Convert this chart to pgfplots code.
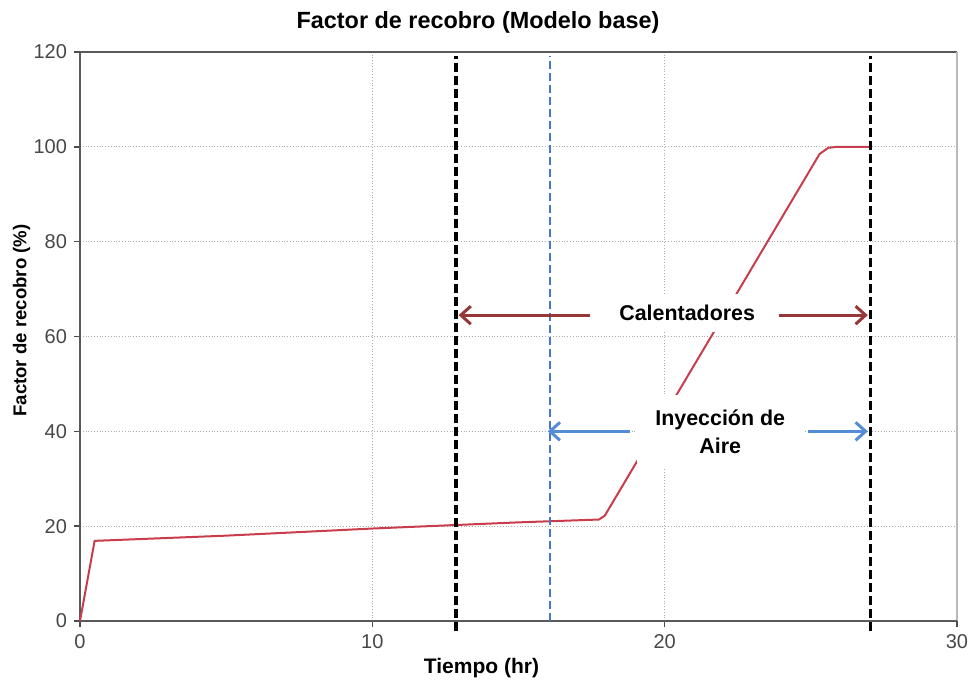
\documentclass[border=0pt]{standalone}
\usepackage{fontspec}
\setmainfont{Liberation Sans}
\usepackage{pgfplots}
\pgfplotsset{compat=1.18}
\usetikzlibrary{arrows.meta}
\definecolor{curvered}{RGB}{200,60,75}
\definecolor{darkred}{RGB}{150,55,55}
\definecolor{arrowblue}{RGB}{85,140,215}
\definecolor{lineblue}{RGB}{70,120,210}
\begin{document}
\begin{tikzpicture}
\begin{axis}[
 scale only axis, width=438.5pt, height=284.5pt,
 xmin=0, xmax=30, ymin=0, ymax=120,
 xtick={0,10,20,30}, ytick={0,20,40,60,80,100,120},
 grid=major, grid style={densely dotted, gray!65, line width=0.6pt},
 axis line style={draw=none},
 tick align=outside, xtick pos=bottom, ytick pos=left,
 major tick length=3pt, tick style={black!70, line width=0.8pt},
 /pgf/number format/assume math mode=true,
 ticklabel style={font=\fontsize{10}{12}\selectfont, text=black!72},
 clip=false,
]
\draw[black!65, line width=0.8pt] (rel axis cs:0,1) -- (rel axis cs:1,1);
\draw[gray!55, line width=0.6pt] (rel axis cs:1,0) -- (rel axis cs:1,1);
\draw[black!65, line width=1pt] (rel axis cs:0,1) -- (rel axis cs:0,0) -- (rel axis cs:1,0);
\addplot[curvered, line width=1pt, no marks] coordinates {
 (0,0) (0.5,16.9) (5,18.0) (10,19.5) (15,20.8) (17.75,21.4) (17.95,22.2) (25.3,98.5) (25.6,99.8) (25.9,100) (27,100)
};
\addplot[lineblue, line width=1pt, dash pattern=on 4pt off 2pt, no marks] coordinates {(16.08,0) (16.08,119.2)};
\addplot[black, line width=1.6pt, dash pattern=on 4.5pt off 2pt, no marks] coordinates {(12.86,-2.2) (12.86,119.2)};
\addplot[black, line width=1.6pt, dash pattern=on 4.5pt off 2pt, no marks] coordinates {(27.05,-2.2) (27.05,119.2)};
\node[fill=white, inner xsep=4pt, inner ysep=5.5pt, font=\bfseries\fontsize{10.7}{13}\selectfont] at (axis cs:20.77,65) {Calentadores};
\node[fill=white, inner xsep=9pt, inner ysep=7pt, align=center, font=\bfseries\fontsize{10.7}{14}\selectfont] at (axis cs:21.9,40) {Inyección de\\Aire};
\draw[darkred, line width=1.5pt, -{Straight Barb[length=5pt,width=9pt]}] (axis cs:17.45,64.5) -- (axis cs:12.95,64.5);
\draw[darkred, line width=1.5pt, -{Straight Barb[length=5pt,width=9pt]}] (axis cs:23.9,64.5) -- (axis cs:26.95,64.5);
\draw[arrowblue, line width=1.5pt, -{Straight Barb[length=5pt,width=9pt]}] (axis cs:18.8,40) -- (axis cs:16.0,40);
\draw[arrowblue, line width=1.5pt, -{Straight Barb[length=5pt,width=9pt]}] (axis cs:24.9,40) -- (axis cs:26.95,40);
\end{axis}
\node[font=\bfseries\fontsize{11.7}{14}\selectfont] at (199pt,299.5pt) {Factor de recobro (Modelo base)};
\node[font=\bfseries\fontsize{10.5}{12}\selectfont] at (200.75pt,-23.5pt) {Tiempo (hr)};
\node[font=\bfseries\fontsize{9.3}{12}\selectfont, rotate=90] at (-29.25pt,150.25pt) {Factor de recobro (\%)};
\pgfresetboundingbox
\path[use as bounding box] (-40pt,-32pt) rectangle (445.5pt,310.5pt);
\end{tikzpicture}
\end{document}
